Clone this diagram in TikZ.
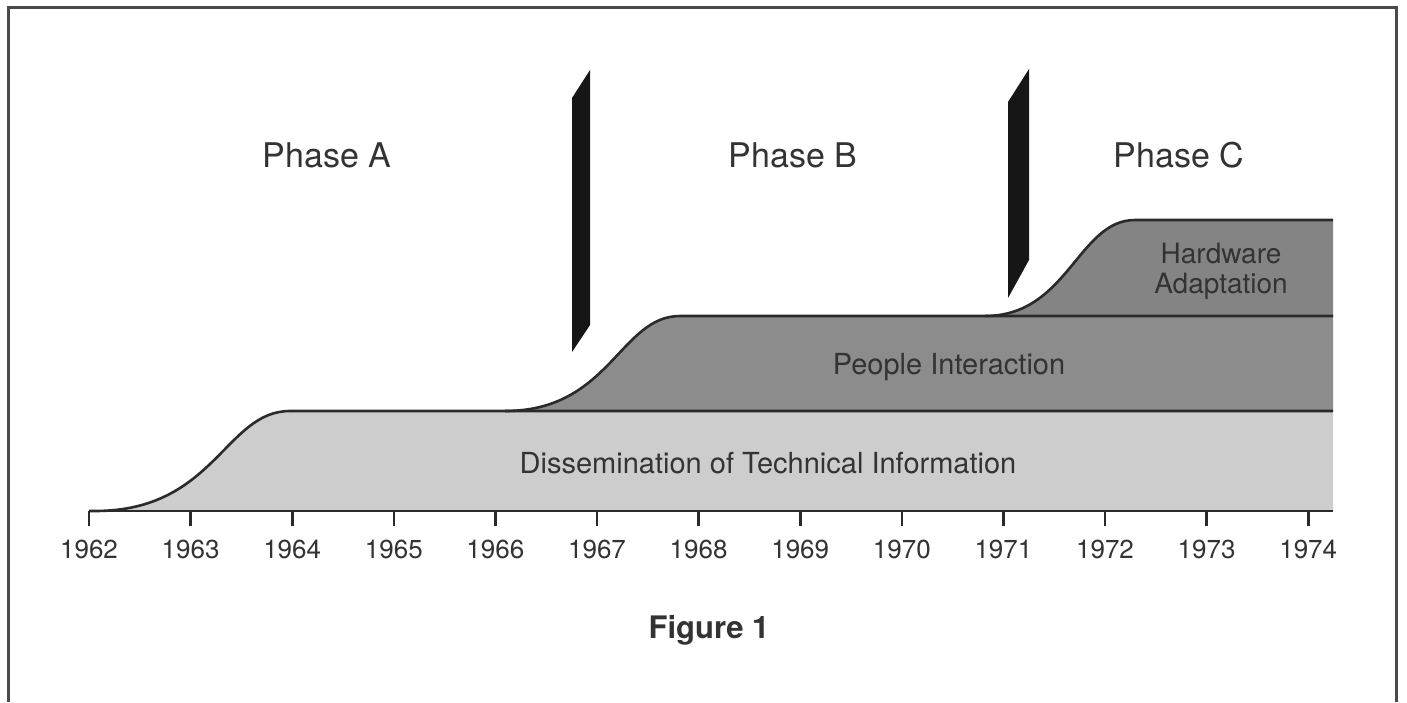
\documentclass[tikz,border=0pt]{standalone}
\usepackage{fontspec}
\setmainfont{TeX Gyre Heros}
\definecolor{txt}{HTML}{333333}
\definecolor{ink}{HTML}{2A2A2A}
\definecolor{light}{HTML}{CDCDCD}
\definecolor{midg}{HTML}{8C8C8C}
\definecolor{topg}{HTML}{848484}
\definecolor{barc}{HTML}{161616}
\definecolor{frame}{HTML}{4A4A4A}
\begin{document}
\begin{tikzpicture}[x=1pt,y=-1pt,
  lbl/.style={text=txt, inner sep=0pt, font=\fontsize{29}{33}\selectfont},
  phase/.style={text=txt, inner sep=0pt, font=\fontsize{34}{38}\selectfont},
  year/.style={text=txt, inner sep=0pt, font=\fontsize{26}{30}\selectfont},
  edge/.style={draw=ink, line width=2.6pt, line join=round},
  bar/.style={fill=barc}]
\useasboundingbox (0,0) rectangle (1407,702);
% frame
\draw[frame, line width=3pt] (8,702) -- (8,7) -- (1396,7) -- (1396,702);
% bottom band
\fill[light] (89,511) -- (95,511) .. controls (215,511) and (225,411) .. (290,411) -- (1333,411) -- (1333,511) -- cycle;
% middle band
\fill[midg] (505,411) .. controls (610,411) and (620,316) .. (680,316) -- (1333,316) -- (1333,411) -- cycle;
% top band
\fill[topg] (985,316) .. controls (1068,316) and (1078,220) .. (1135,220) -- (1333,220) -- (1333,316) -- cycle;
% outlines
\draw[edge] (89,511) -- (95,511) .. controls (215,511) and (225,411) .. (290,411) -- (1333,411);
\draw[edge] (505,411) .. controls (610,411) and (620,316) .. (680,316) -- (1333,316);
\draw[edge] (985,316) .. controls (1068,316) and (1078,220) .. (1135,220) -- (1333,220);
% axis
\draw[edge] (89,511) -- (1333,511);
\foreach \i in {0,...,12}{
  \pgfmathtruncatemacro{\yr}{1962+\i}
  \draw[ink, line width=2.6pt] (89+101.6*\i,511) -- (89+101.6*\i,526);
  \node[year] (y\yr) at (89+101.6*\i,549) {\yr};
}
% phase bars
\fill[bar] (572,98) -- (590,70) -- (590,325) -- (572,352) -- cycle;
\fill[bar] (1008,102) -- (1029,69) -- (1029,260) -- (1008,298) -- cycle;
% labels
\node[phase] (pa) at (327,155) {Phase A};
\node[phase] (pb) at (793,155) {Phase B};
\node[phase] (pc) at (1179,155) {Phase C};
\node[lbl] (dti) at (768,463) {Dissemination of Technical Information};
\node[lbl] (pi) at (949,367) {People Interaction};
\node[lbl, align=center, font=\fontsize{28}{30}\selectfont] (ha) at (1221,271) {Hardware\\Adaptation};
\node[text=txt, inner sep=0pt, font=\bfseries\fontsize{31}{35}\selectfont] (fig) at (709,630) {Figure 1};
\end{tikzpicture}
\end{document}
